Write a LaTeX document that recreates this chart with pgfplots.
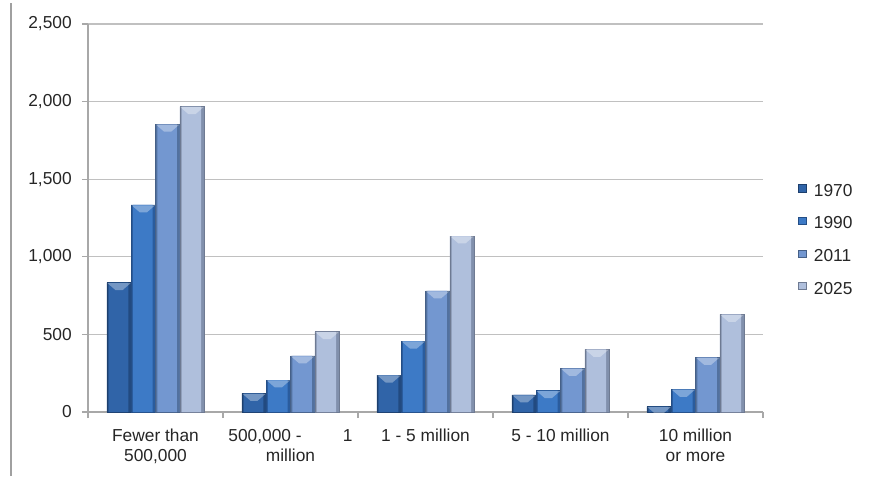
\documentclass[border=0pt]{standalone}
\usepackage{fontspec}
\setmainfont{Liberation Sans}
\usepackage{pgfplots}
\usepackage{pgfplotstable}
\pgfplotsset{compat=1.18}

\definecolor{gridgray}{HTML}{C0C0C0}
\definecolor{axisgray}{HTML}{A8A8A8}
\definecolor{framegray}{HTML}{A0A0A0}
\definecolor{labeltext}{HTML}{262626}
% series colours: edge / body
\definecolor{cA}{HTML}{224A80}
\definecolor{cAm}{HTML}{3064A8}
\definecolor{cB}{HTML}{2A5C9E}
\definecolor{cBm}{HTML}{3D7AC6}
\definecolor{cC}{HTML}{52719F}
\definecolor{cCm}{HTML}{7397D0}
\definecolor{cD}{HTML}{8190AC}
\definecolor{cDm}{HTML}{AFBFDC}

% number of cities by size class
\pgfplotstableread{
x  y1970 y1990 y2011 y2025
0  833   1334  1854  1967
1  120   206   361   517
2  238   457   780   1134
3  110   137   281   404
4  34    146   352   629
}\citydata

% light bevel on the top of each bar
\pgfdeclareplotmark{bevel}{%
  \pgfsetfillcolor{white}%
  \pgfsetfillopacity{0.33}%
  \pgfpathmoveto{\pgfqpoint{-8.7pt}{-0.3pt}}%
  \pgfpathlineto{\pgfqpoint{8.7pt}{-0.3pt}}%
  \pgfpathlineto{\pgfqpoint{2.6pt}{-5.6pt}}%
  \pgfpathlineto{\pgfqpoint{-2.6pt}{-5.6pt}}%
  \pgfpathclose\pgfusepathqfill}

\pgfplotsset{
  % darker outer bar
  cbar/.style 2 args={
    ybar, bar width=0.18, bar shift=0pt,
    draw=#1!85!black, line width=0.4pt, fill=#1,
    legend image code/.code={\draw[draw=#1!85!black, fill=#2, line width=0.3pt] (0pt,-0.4pt) rectangle (5.4pt,5pt);},
  },
  % lighter body inside it
  cbody/.style={
    ybar, bar width=0.145, bar shift=-0.004, draw=none, fill=#1, forget plot,
  },
  cbevel/.style={only marks, mark=bevel, forget plot},
}

\begin{document}
\begin{tikzpicture}
\path[use as bounding box] (0,0) rectangle (653.25pt,357pt);
\draw[framegray, line width=1.5pt] (7.9pt,0pt) -- (7.9pt,355pt);
\begin{axis}[
  at={(66pt,48pt)}, anchor=south west,
  scale only axis, width=506.25pt, height=291pt,
  xmin=-0.5, xmax=4.5, ymin=0, ymax=2500,
  ytick={0,500,...,2500},
  xtick={0,1,2,3,4},
  xticklabels={{Fewer than\\500,000},{500,000 -\hspace{31pt}1\\million},{1 - 5 million},{5 - 10 million},{10 million\\or more}},
  minor xtick={-0.5,0.5,1.5,2.5,3.5,4.5},
  major x tick style={draw=none},
  tick align=outside,
  major tick length=4.5pt, minor tick length=4.5pt,
  every tick/.style={axisgray, line width=0.9pt},
  axis x line*=bottom, axis y line*=left,
  axis line style={axisgray, line width=1pt, -},
  ymajorgrids, grid style={gridgray, line width=0.9pt},
  clip marker paths=true,
  tick label style={font=\fontsize{13}{15}\selectfont, text=labeltext, inner sep=0pt},
  /pgf/number format/assume math mode=true,
  /pgf/number format/1000 sep={,},
  yticklabel style={xshift=-7.5pt},
  xticklabel style={align=center, yshift=-8pt},
  legend cell align=left,
  legend style={at={(axis description cs:1.052,0.588)}, anchor=north west,
    draw=none, fill=none, inner sep=0pt, row sep=13.9pt,
    font=\fontsize{13}{15}\selectfont, text=labeltext,
    nodes={inner sep=0pt},
    /tikz/every odd column/.append style={column sep=6pt}},
]
\addplot[cbar={cA}{cAm}] table[x expr=\thisrow{x}-0.27, y=y1970] {\citydata};
\addlegendentry{1970}
\addplot[cbody=cAm] table[x expr=\thisrow{x}-0.27, y=y1970] {\citydata};
\addplot[cbevel] table[x expr=\thisrow{x}-0.27, y=y1970] {\citydata};
\addplot[cbar={cB}{cBm}] table[x expr=\thisrow{x}-0.09, y=y1990] {\citydata};
\addlegendentry{1990}
\addplot[cbody=cBm] table[x expr=\thisrow{x}-0.09, y=y1990] {\citydata};
\addplot[cbevel] table[x expr=\thisrow{x}-0.09, y=y1990] {\citydata};
\addplot[cbar={cC}{cCm}] table[x expr=\thisrow{x}+0.09, y=y2011] {\citydata};
\addlegendentry{2011}
\addplot[cbody=cCm] table[x expr=\thisrow{x}+0.09, y=y2011] {\citydata};
\addplot[cbevel] table[x expr=\thisrow{x}+0.09, y=y2011] {\citydata};
\addplot[cbar={cD}{cDm}] table[x expr=\thisrow{x}+0.27, y=y2025] {\citydata};
\addlegendentry{2025}
\addplot[cbody=cDm] table[x expr=\thisrow{x}+0.27, y=y2025] {\citydata};
\addplot[cbevel] table[x expr=\thisrow{x}+0.27, y=y2025] {\citydata};
\end{axis}
\end{tikzpicture}
\end{document}
